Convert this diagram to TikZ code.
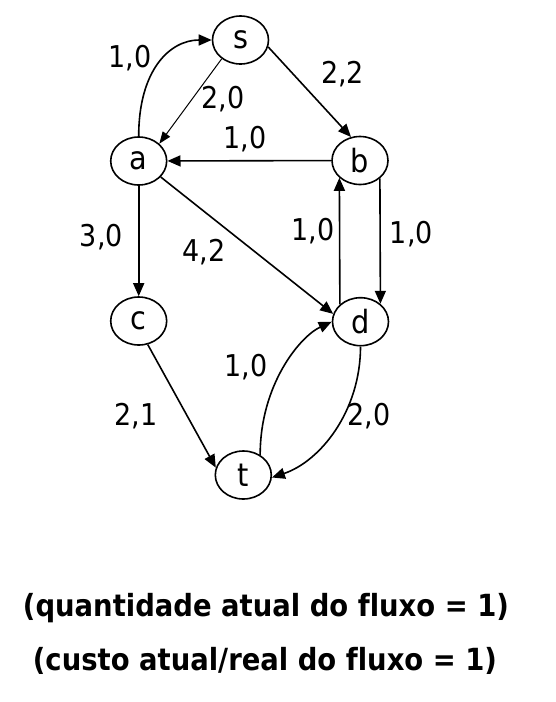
\documentclass[tikz,border=0pt]{standalone}
\usepackage{fontspec}
\setmainfont[Ligatures=NoCommon]{DejaVu Sans Condensed}
\usetikzlibrary{arrows.meta,shapes.geometric}
\begin{document}
\begin{tikzpicture}[x=1pt,y=-1pt,
  vtx/.style={ellipse,draw,line width=1.6pt,minimum width=56pt,minimum height=48pt,inner sep=0pt,font=\fontsize{32}{38}\selectfont},
  edge/.style={-{Triangle[length=13pt,width=11pt]},line width=1.6pt},
  thinedge/.style={-{Triangle[length=12pt,width=9pt]},line width=1pt},
  lbl/.style={anchor=base,inner sep=0pt,font=\fontsize{30}{36}\selectfont},
  note/.style={anchor=base,inner sep=0pt,font=\bfseries\fontsize{30.5}{36}\selectfont}]
\useasboundingbox (0,0) rectangle (556,702);
\node[vtx] (s) at (240.5,40) {s};
\node[vtx] (a) at (138.7,161) {a};
\node[vtx] (b) at (360,160.5) {b};
\node[vtx] (c) at (138.7,321) {c};
\node[vtx] (d) at (360.5,321.7) {d};
\node[vtx] (t) at (243.3,475) {t};

\draw[edge] (a.north) .. controls +(0,-66) and +(-42,0) .. (s.west);
\draw[thinedge] (s.-135) -- (a.40);
\draw[edge] (s.-14) -- (b.111);
\draw[edge] (b) -- (a);
\draw[edge] (a) -- (c);
\draw[edge] (a.-36) -- (d.164);
\draw[edge] (d.140) -- (b.-140);
\draw[edge] (b.-42) -- (d.42);
\draw[edge] (c.-69) -- (t.165);
\draw[edge] (t.50) .. controls +(0,-70) and +(-32,15) .. (d.west);
\draw[edge] (d.south) .. controls +(0,65) and +(48,-16) .. (t.-5);

\node[lbl] (l1) at (130,67) {1,0};
\node[lbl] (l2) at (342.5,83.3) {2,2};
\node[lbl] (l3) at (223,108.3) {2,0};
\node[lbl] (l4) at (245,148.3) {1,0};
\node[lbl] (l5) at (101.3,246.7) {3,0};
\node[lbl] (l6) at (204,261.7) {4,2};
\node[lbl] (l7) at (313,240) {1,0};
\node[lbl] (l8) at (411.3,243.3) {1,0};
\node[lbl] (l9) at (246,376.7) {1,0};
\node[lbl] (l10) at (136,425) {2,1};
\node[lbl] (l11) at (369,425) {2,0};

\node[note] (note1) at (266,616.7) {(quantidade atual do fluxo = 1)};
\node[note] (note2) at (265,670) {(custo atual/real do fluxo = 1)};
\end{tikzpicture}
\end{document}
